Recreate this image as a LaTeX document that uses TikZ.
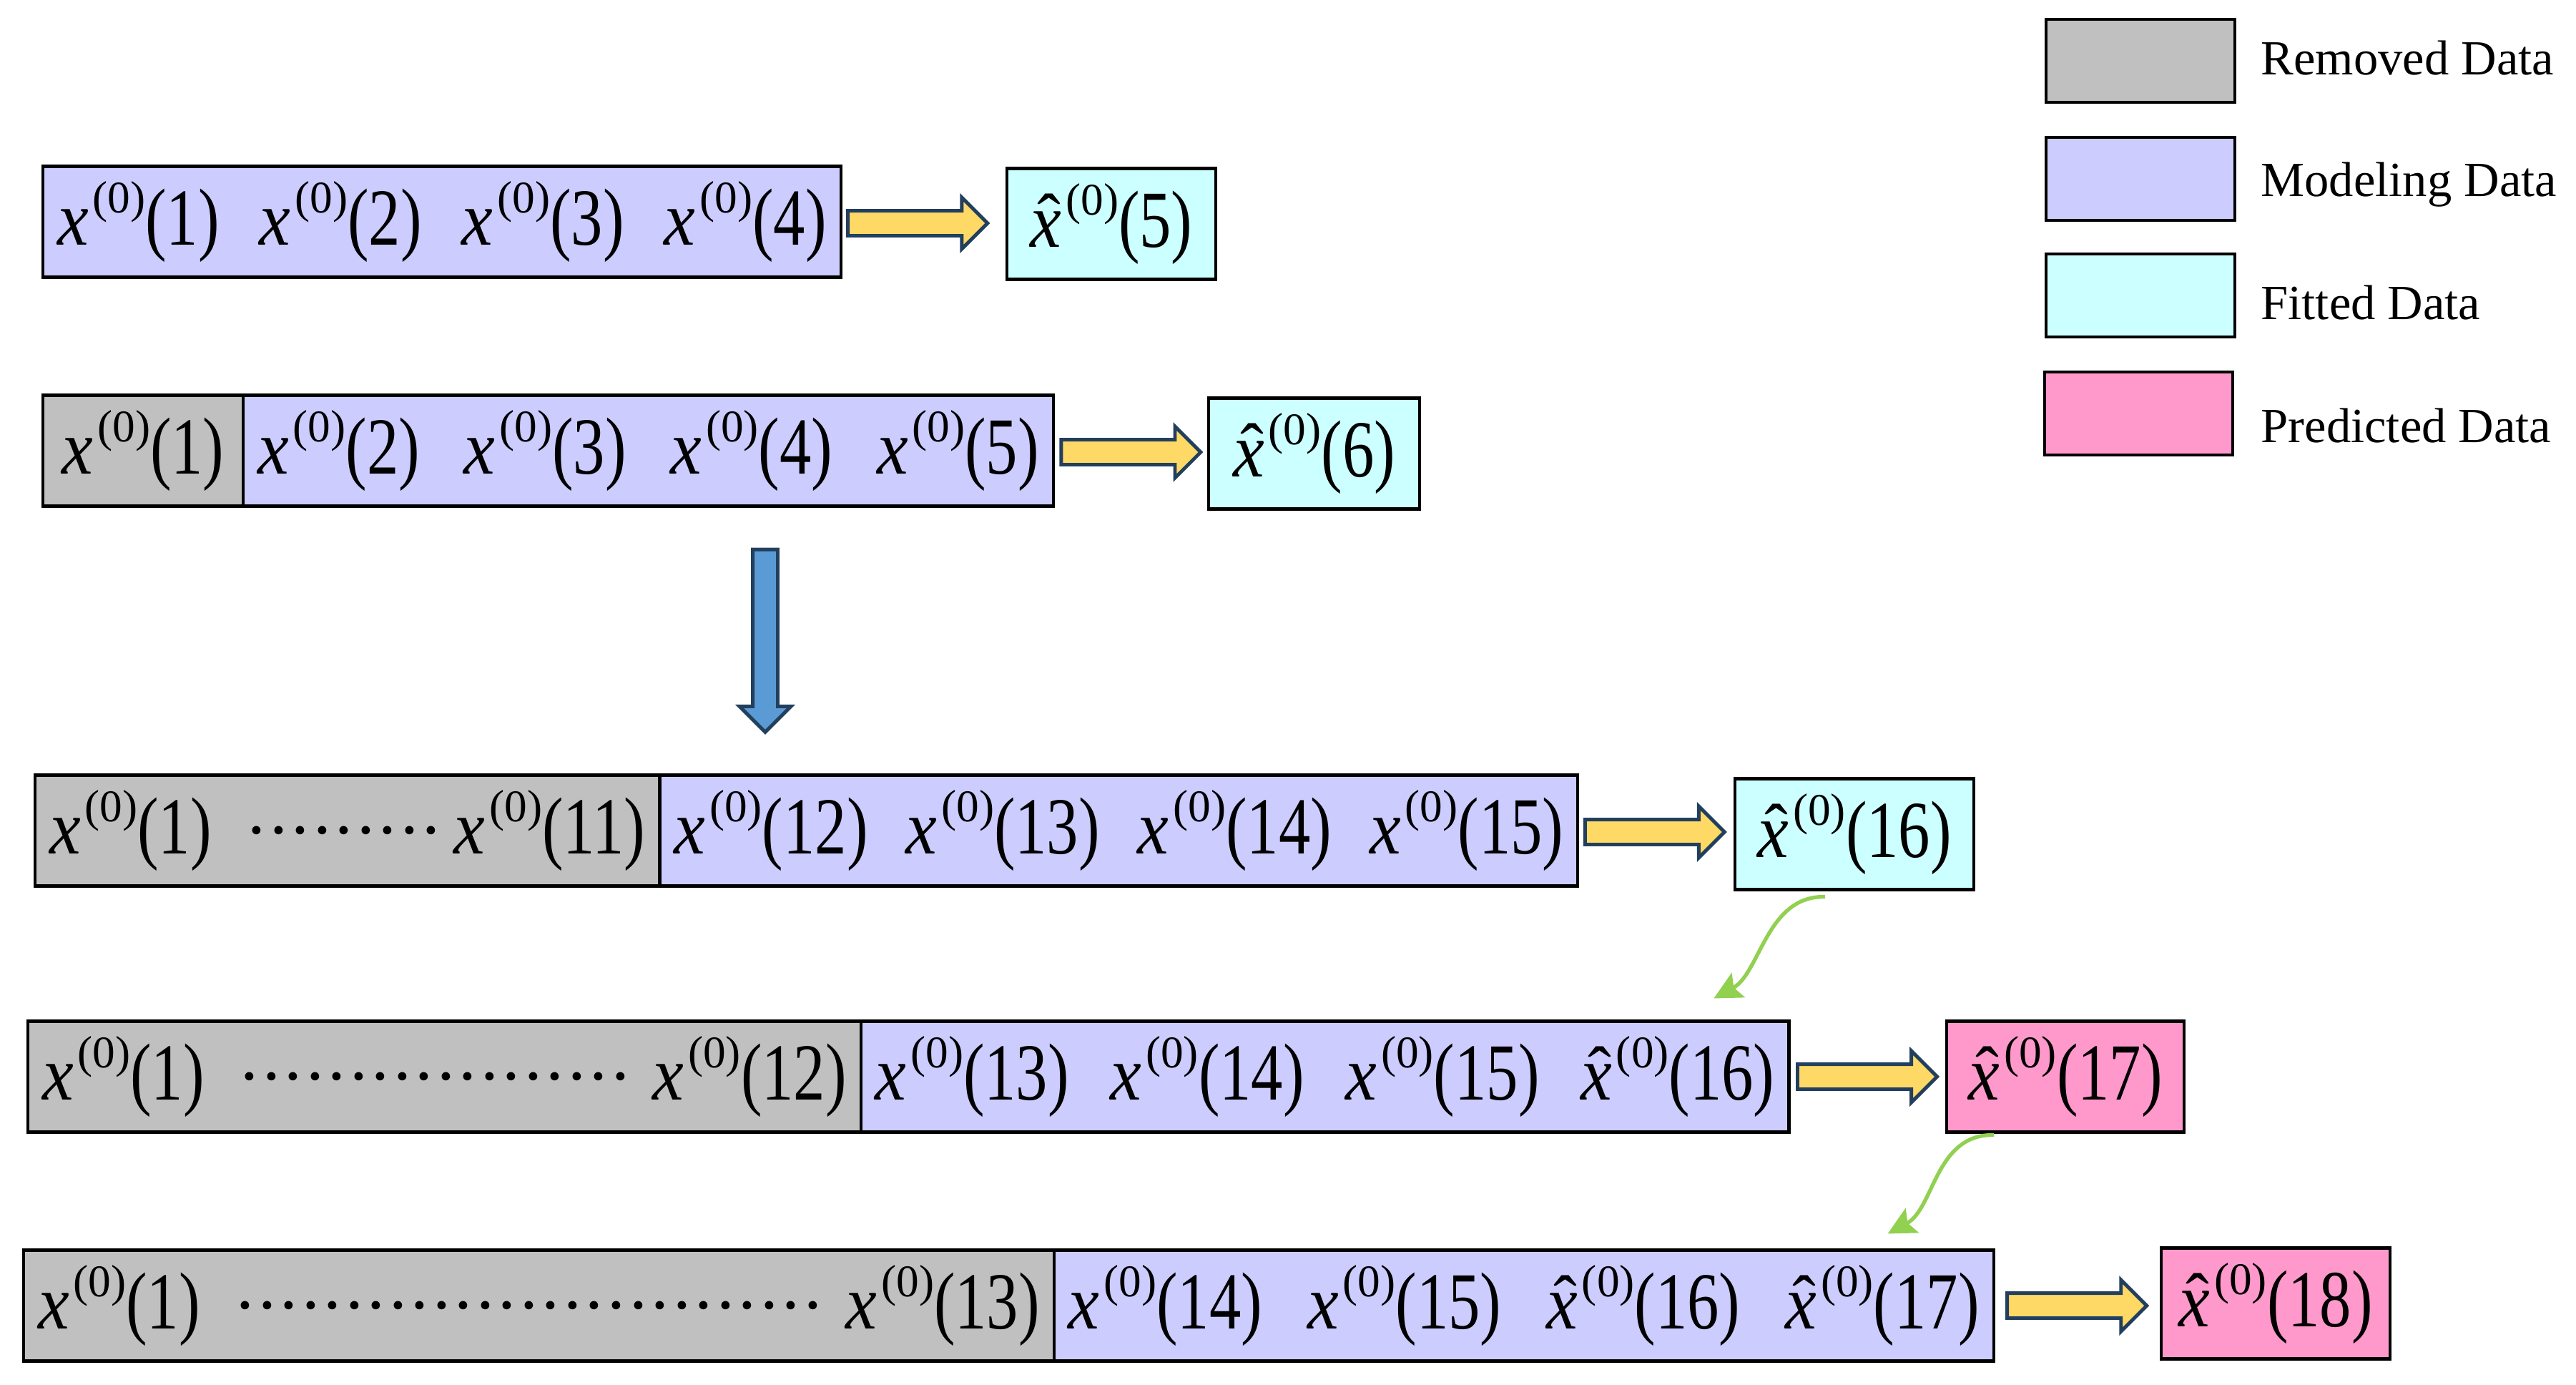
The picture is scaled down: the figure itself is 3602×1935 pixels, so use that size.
\documentclass[tikz,border=0pt]{standalone}
\usepackage{fontspec}
\setmainfont{Liberation Serif}
\usetikzlibrary{shapes.arrows,calc,arrows.meta}
\definecolor{remc}{HTML}{C0C0C0}
\definecolor{modc}{HTML}{CCCCFF}
\definecolor{fitc}{HTML}{CCFFFF}
\definecolor{predc}{HTML}{FF99CC}
\definecolor{yelc}{HTML}{FFD966}
\definecolor{arrline}{HTML}{223F5E}
\definecolor{bluec}{HTML}{5B9BD5}
\definecolor{greenc}{HTML}{92D050}
\newcommand\supz{\kern0.06em\raisebox{0.45em}{\fontsize{18}{18}\selectfont(0)}}
\newcommand\argn[1]{\scalebox{0.9}[1.15]{(#1)}}
\newcommand\xo[1]{\scalebox{1}[1.1]{\textit{x}}\supz\argn{#1}}
\newcommand\xh[1]{\rlap{\kern0.1em\raisebox{0.06em}{\char"02C6}}\scalebox{1}[1.1]{\textit{x}}\supz\argn{#1}}
\newcommand\dotrun{\leaders\hbox to 0.31em{\hss\textperiodcentered\hss}\hfill}
\begin{document}
\begin{tikzpicture}[x=0.01cm,y=-0.01cm,
  cell/.style={draw=black, line width=1.2pt, minimum height=1.55cm, inner xsep=0.2cm, inner ysep=0pt, outer sep=0pt, anchor=west, font=\fontsize{28}{30}\selectfont},
  remcell/.style={cell, fill=remc},
  modcell/.style={cell, fill=modc},
  fitcell/.style={cell, fill=fitc},
  predcell/.style={cell, fill=predc},
  blockarrow/.style={single arrow, draw=arrline, line width=1.4pt, minimum width=0.67cm, single arrow head extend=0.185cm, inner xsep=0pt, inner ysep=0.15cm, outer sep=0pt, single arrow tip angle=90, single arrow head indent=0pt},
  yarrow/.style={blockarrow, fill=yelc, minimum height=1.95cm, anchor=west},
  barrow/.style={blockarrow, fill=bluec, minimum height=2.55cm, rotate=-90},
  garrow/.style={draw=greenc, line width=1.5pt, -{Stealth[length=11pt,width=11pt,inset=2pt]}},
  legtext/.style={anchor=base west, inner sep=0pt, font=\fontsize{19.5}{22}\selectfont}
]
\useasboundingbox (0,0) rectangle (3602,1935);

% legend
\node[remcell, minimum width=2.64cm, minimum height=1.16cm] (l1) at (2861,85) {};
\node[modcell, minimum width=2.64cm, minimum height=1.16cm] (l2) at (2861,250) {};
\node[fitcell, minimum width=2.64cm, minimum height=1.16cm] (l3) at (2861,413) {};
\node[predcell, minimum width=2.63cm, minimum height=1.16cm] (l4) at (2859,578) {};
\node[legtext] (t1) at (3161,104) {Removed Data};
\node[legtext] (t2) at (3161,274) {Modeling Data};
\node[legtext] (t3) at (3161,446) {Fitted Data};
\node[legtext] (t4) at (3161,618) {Predicted Data};

% row 1
\node[modcell, minimum width=11.15cm] (b1) at (60,310) {\hbox to 10.75cm{\xo{1}\hfill\xo{2}\hfill\xo{3}\hfill\xo{4}}};
\node[fitcell, minimum width=2.92cm] (f1) at (1408,313) {\xh{5}};
\node[yarrow] (a1) at ($(b1.east)+(10,2)$) {};

% row 2
\node[remcell, minimum width=2.80cm] (g2) at (60,630) {\xo{1}};
\node[modcell, minimum width=11.32cm] (b2) at (g2.east) {\hbox to 10.92cm{\xo{2}\hfill\xo{3}\hfill\xo{4}\hfill\xo{5}}};
\node[fitcell, minimum width=2.95cm] (f2) at (1690,634) {\xh{6}};
\node[yarrow] (a2) at ($(b2.east)+(11,2)$) {};

% down arrow
\node[barrow] (down) at (1070,887) {};

% row 3
\node[remcell, minimum width=8.73cm] (g3) at (49,1161) {\hbox to 8.33cm{\xo{1}\hspace{0.35em}\dotrun\hspace{0.05em}\xo{11}}};
\node[modcell, minimum width=12.83cm] (b3) at (g3.east) {\hbox to 12.43cm{\xo{12}\hfill\xo{13}\hfill\xo{14}\hfill\xo{15}}};
\node[fitcell, minimum width=3.34cm] (f3) at (2426,1166) {\xh{16}};
\node[yarrow] (a3) at ($(b3.east)+(10,2)$) {};

% row 4
\node[remcell, minimum width=11.64cm] (g4) at (39,1505) {\hbox to 11.24cm{\xo{1}\hspace{0.35em}\dotrun\hspace{0.05em}\xo{12}}};
\node[modcell, minimum width=12.97cm] (b4) at (g4.east) {\hbox to 12.57cm{\xo{13}\hfill\xo{14}\hfill\xo{15}\hfill\xh{16}}};
\node[predcell, minimum width=3.32cm] (p4) at (2722,1505) {\xh{17}};
\node[yarrow] (a4) at ($(b4.east)+(12,0)$) {};

% row 5
\node[remcell, minimum width=14.40cm] (g5) at (33,1825) {\hbox to 14.00cm{\xo{1}\hspace{0.35em}\dotrun\hspace{0.05em}\xo{13}}};
\node[modcell, minimum width=13.13cm] (b5) at (g5.east) {\hbox to 12.73cm{\xo{14}\hfill\xo{15}\hfill\xh{16}\hfill\xh{17}}};
\node[predcell, minimum width=3.20cm] (p5) at (3022,1822) {\xh{18}};
\node[yarrow] (a5) at ($(b5.east)+(19,0)$) {};

% green curved arrows
\coordinate (g1s) at ($(f3.south west)+(126,10)$);
\coordinate (g1e) at ($(b4.north east)+(-105,-32)$);
\draw[garrow] (g1s) .. controls ($(g1s)+(-82,-2)$) and ($(g1e)+(65,-35)$) .. (g1e);
\coordinate (g2s) at ($(p4.south west)+(66,4)$);
\coordinate (g2e) at ($(b5.north east)+(-148,-23)$);
\draw[garrow] (g2s) .. controls ($(g2s)+(-82,-2)$) and ($(g2e)+(65,-35)$) .. (g2e);
\end{tikzpicture}
\end{document}
